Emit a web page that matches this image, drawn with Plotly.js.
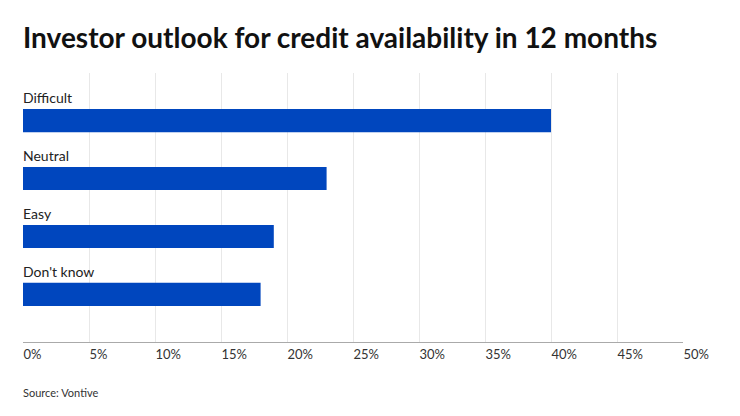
<!DOCTYPE html>
<html>
<head>
<meta charset="utf-8">
<script src="https://cdn.plot.ly/plotly-3.0.1.min.js"></script>
<style>html,body{margin:0;padding:0;background:#fff;}#chart{width:740px;height:416px;}</style>
</head>
<body>
<div id="chart"></div>
<script>
const categories = ["Difficult", "Neutral", "Easy", "Don't know"];
const values = [40.0, 23.0, 19.0, 18.0];
const tickValues = [0, 5, 10, 15, 20, 25, 30, 35, 40, 45, 50];
const tickLabels = ["0%", "5%", "10%", "15%", "20%", "25%", "30%", "35%", "40%", "45%", "50%"];
const titleText = "Investor outlook for credit availability in 12 months";
const sourceText = "Source: Vontive";

const FONT = "Lato, 'Open Sans', sans-serif";

const trace = {
  type: "bar",
  orientation: "h",
  x: values,
  y: categories,
  marker: {color: "#0046BE", line: {width: 0}},
  width: 0.4,
  hoverinfo: "skip"
};

const annotations = categories.map(c => ({
  x: 0, xref: "x", xanchor: "left",
  y: c, yref: "y", yanchor: "middle", yshift: 23, xshift: -2,
  text: c, showarrow: false,
  font: {family: FONT, size: 14, color: "#222"}
}));
annotations.push({
  x: 0, xref: "paper", xanchor: "left", xshift: -2,
  y: -0.155, yref: "paper", yanchor: "top",
  text: sourceText, showarrow: false,
  font: {family: FONT, size: 11, color: "#333"}
});

const layout = {
  width: 740, height: 416,
  margin: {l: 23, r: 57, t: 73, b: 74, pad: 0},
  paper_bgcolor: "#fff", plot_bgcolor: "#fff",
  showlegend: false,
  title: {
    text: "<b>" + titleText + "</b>",
    font: {family: FONT, size: 28, color: "#111"},
    xref: "container", x: 23 / 740, xanchor: "left",
    yref: "container", y: 1 - 28 / 416, yanchor: "top"
  },
  xaxis: {
    range: [0, 50],
    tickvals: tickValues,
    ticktext: tickLabels,
    ticklabelposition: "outside right",
    ticks: "",
    showgrid: true, gridcolor: "#e8e8e8", gridwidth: 1,
    zeroline: false,
    showline: true, linecolor: "#aaa", linewidth: 1,
    tickfont: {family: FONT, size: 13, color: "#333"},
    fixedrange: true
  },
  yaxis: {
    type: "category",
    categoryorder: "array",
    categoryarray: categories,
    range: [3.82, -0.82],
    showticklabels: false,
    showgrid: false, zeroline: false, showline: false, ticks: "",
    fixedrange: true
  },
  annotations: annotations
};

Plotly.newPlot("chart", [trace], layout, {displayModeBar: false, staticPlot: true});
</script>
</body>
</html>
